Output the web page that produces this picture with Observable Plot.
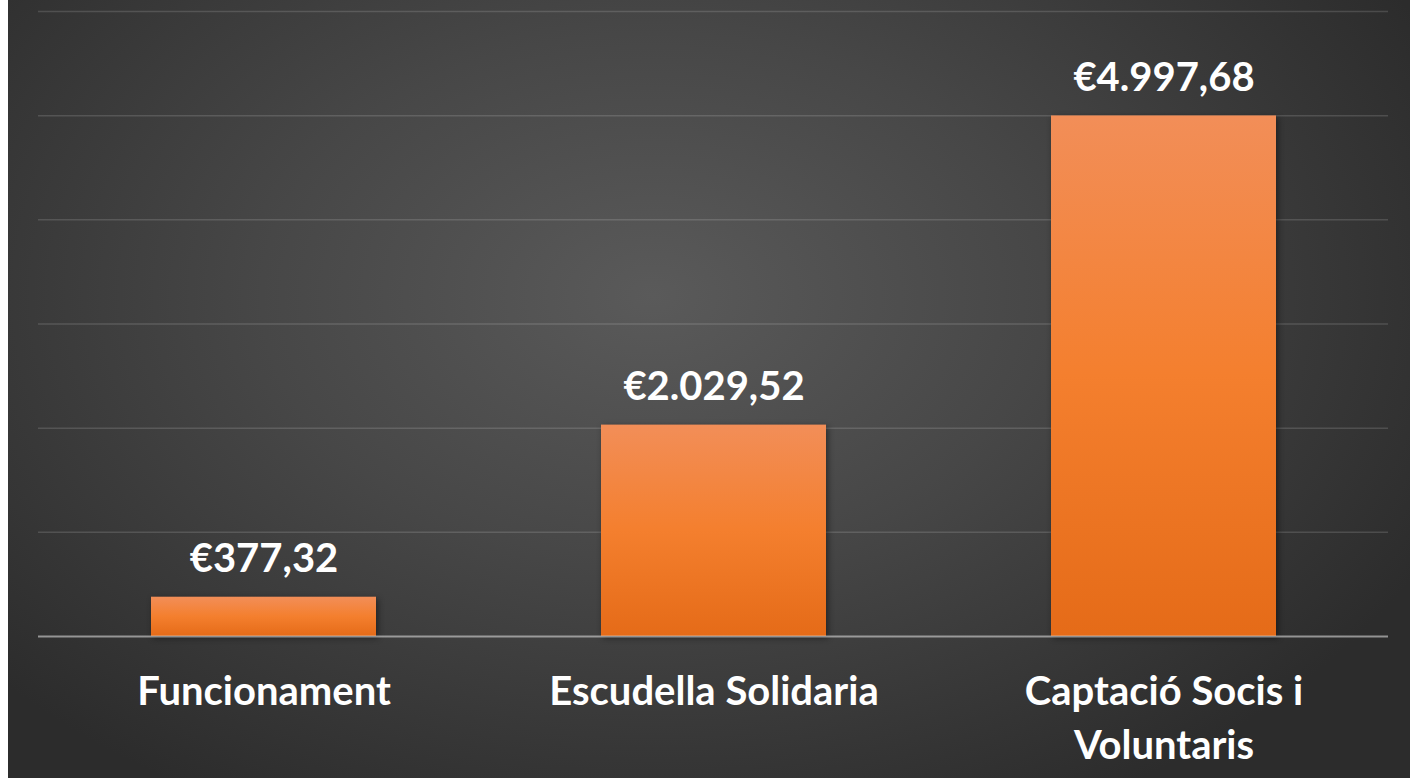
<!DOCTYPE html>
<html>
<head>
<meta charset="utf-8">
<script src="https://cdn.jsdelivr.net/npm/d3@7"></script>
<script src="https://cdn.jsdelivr.net/npm/@observablehq/plot@0.6"></script>
<style>
  html, body { margin: 0; padding: 0; background: #ffffff; }
  #wrap {
    position: absolute; left: 8px; top: 0; width: 1402px; height: 778px;
    background: radial-gradient(ellipse 62% 75% at 46% 38%, #5a5a5a 0%, #474747 45%, #2c2c2c 100%);
    overflow: hidden;
  }
  #wrap svg { background: transparent !important; }
  g[aria-label="bar"] rect { filter: drop-shadow(2px 2px 3px rgba(0,0,0,0.45)); }
</style>
</head>
<body>
<div id="wrap"></div>
<script>
const categories = ["Funcionament", "Escudella Solidaria", "Captació Socis i Voluntaris"];
const tickLabels = ["Funcionament", "Escudella Solidaria", "Captació Socis i\nVoluntaris"];
const values = [377.32, 2029.52, 4997.68];
const yTicks = [1000, 2000, 3000, 4000, 5000, 6000];

const data = categories.map((c, i) => ({category: c, value: values[i], tick: tickLabels[i]}));
const locale = d3.formatLocale({decimal: ",", thousands: ".", grouping: [3], currency: ["€", ""]});
const fmt = locale.format("$,.2f");

const font = "Lato, 'Open Sans', sans-serif";

const defs = () => {
  const d = d3.create("svg:defs");
  const g = d.append("linearGradient").attr("id", "barGrad").attr("x1", 0).attr("y1", 0).attr("x2", 0).attr("y2", 1);
  g.append("stop").attr("offset", "0%").attr("stop-color", "#f28e58");
  g.append("stop").attr("offset", "50%").attr("stop-color", "#f47f2e");
  g.append("stop").attr("offset", "100%").attr("stop-color", "#e56b18");
  return d.node();
};

const chart = Plot.plot({
  width: 1402,
  height: 778,
  marginLeft: 30,
  marginRight: 22,
  marginTop: 11,
  marginBottom: 142,
  style: {background: "transparent", fontFamily: font},
  x: {domain: categories, paddingInner: 0.5, paddingOuter: 0.25, axis: null},
  y: {domain: [0, 6000], axis: null},
  marks: [
    defs,
    Plot.ruleY(yTicks, {stroke: "#ffffff", strokeOpacity: 0.14, strokeWidth: 1.5}),
    Plot.barY(data, {x: "category", y: "value", fill: "url(#barGrad)"}),
    Plot.ruleY([0], {stroke: "#d9d9d9", strokeOpacity: 0.6, strokeWidth: 2}),
    Plot.text(data, {
      x: "category", y: "value", text: d => fmt(d.value),
      dy: -38, fill: "#ffffff", fontSize: 40, fontWeight: "bold", lineAnchor: "middle"
    }),
    Plot.text(data, {
      x: "category", y: () => 0, text: "tick",
      dy: 30, fill: "#ffffff", fontSize: 40, fontWeight: "bold", lineAnchor: "top", lineHeight: 1.35
    })
  ]
});
document.getElementById("wrap").appendChild(chart);
</script>
</body>
</html>
